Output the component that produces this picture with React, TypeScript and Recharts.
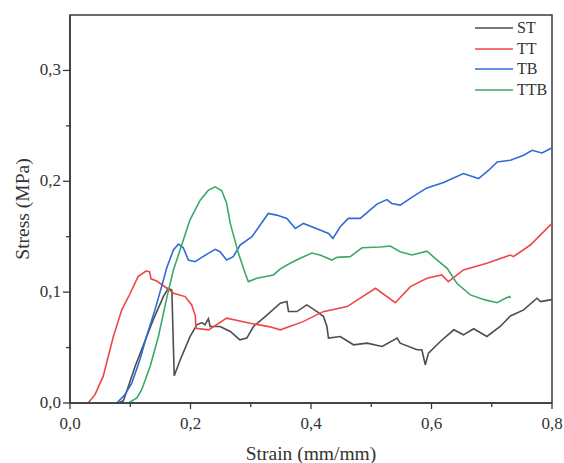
import { LineChart, Line, XAxis, YAxis, Legend, ReferenceArea } from "recharts";

/* ── palette ── */
const C = {
  st: "#4d4d4d",
  tt: "#ef4648",
  tb: "#2f6ad6",
  ttb: "#3ba96b",
  axis: "#3a3a3a",
  text: "#333333",
};
const FONT = '"Liberation Serif", "Times New Roman", serif';

/* ── data: [strain, stress] ── */
const ST = [
  [0, 0], [0.08, 0], [0.0885, 0.002], [0.094, 0.0104], [0.108, 0.033], [0.122, 0.0525],
  [0.138, 0.075], [0.155, 0.096], [0.163, 0.1035], [0.169, 0.102], [0.173, 0.0246],
  [0.183, 0.039], [0.199, 0.0597], [0.2105, 0.0705], [0.219, 0.0725], [0.224, 0.0705],
  [0.2297, 0.076], [0.2326, 0.069], [0.249, 0.069], [0.266, 0.0645], [0.282, 0.057],
  [0.2935, 0.0585], [0.3045, 0.069], [0.324, 0.078], [0.349, 0.09], [0.36, 0.0915],
  [0.3626, 0.0825], [0.3766, 0.0825], [0.393, 0.0885], [0.41, 0.0825], [0.4208, 0.078],
  [0.4264, 0.069], [0.429, 0.0585], [0.4485, 0.06], [0.4706, 0.0525], [0.493, 0.054],
  [0.518, 0.051], [0.543, 0.0585], [0.548, 0.054], [0.576, 0.048], [0.584, 0.048],
  [0.5897, 0.0345], [0.595, 0.045], [0.6146, 0.0555], [0.637, 0.066], [0.653, 0.0615],
  [0.67, 0.067], [0.692, 0.06], [0.714, 0.069], [0.731, 0.0785], [0.753, 0.084],
  [0.775, 0.0945], [0.781, 0.0915], [0.797, 0.093], [0.8, 0.0935],
];

const TT = [
  [0, 0], [0.03, 0], [0.0415, 0.0075], [0.055, 0.024], [0.072, 0.06], [0.086, 0.084],
  [0.1, 0.099], [0.113, 0.114], [0.126, 0.119], [0.132, 0.1185], [0.1345, 0.112],
  [0.144, 0.11], [0.161, 0.1035], [0.172, 0.099], [0.191, 0.096], [0.202, 0.0885],
  [0.208, 0.0786], [0.209, 0.0675], [0.23, 0.066], [0.26, 0.0765], [0.299, 0.072],
  [0.332, 0.0687], [0.349, 0.066], [0.387, 0.0734], [0.42, 0.0824], [0.46, 0.087],
  [0.507, 0.1035], [0.54, 0.0905], [0.565, 0.105], [0.5925, 0.1125], [0.617, 0.1155],
  [0.628, 0.1095], [0.653, 0.12], [0.692, 0.126], [0.731, 0.1335], [0.736, 0.132],
  [0.764, 0.1425], [0.797, 0.1605], [0.8, 0.162],
];

const TB = [
  [0, 0], [0.0776, 0], [0.091, 0.0075], [0.1025, 0.018], [0.116, 0.039], [0.127, 0.06],
  [0.141, 0.084], [0.152, 0.105], [0.1606, 0.122], [0.1716, 0.138], [0.18, 0.1434],
  [0.188, 0.14], [0.1965, 0.129], [0.2076, 0.1275], [0.216, 0.1305], [0.2297, 0.135],
  [0.241, 0.1386], [0.249, 0.1365], [0.26, 0.129], [0.271, 0.132], [0.2824, 0.1425],
  [0.302, 0.15], [0.329, 0.171], [0.343, 0.1695], [0.36, 0.1665], [0.374, 0.1575],
  [0.3875, 0.162], [0.415, 0.156], [0.429, 0.153], [0.4364, 0.1485], [0.4485, 0.159],
  [0.462, 0.1665], [0.4817, 0.1665], [0.5095, 0.1794], [0.526, 0.1835], [0.534, 0.18],
  [0.548, 0.1785], [0.573, 0.1875], [0.5925, 0.194], [0.62, 0.199], [0.653, 0.207],
  [0.678, 0.2025], [0.695, 0.21], [0.709, 0.2175], [0.731, 0.219], [0.753, 0.2235],
  [0.767, 0.228], [0.7835, 0.2255], [0.797, 0.2293], [0.8, 0.23],
];

const TTB = [
  [0, 0], [0.097, 0], [0.111, 0.0045], [0.119, 0.012], [0.133, 0.033], [0.1467, 0.06],
  [0.1606, 0.0948], [0.1716, 0.12], [0.1827, 0.138], [0.199, 0.165], [0.216, 0.183],
  [0.2297, 0.192], [0.241, 0.195], [0.252, 0.1915], [0.26, 0.18], [0.266, 0.162],
  [0.2796, 0.135], [0.2907, 0.117], [0.296, 0.1095], [0.31, 0.1125], [0.3377, 0.1155],
  [0.349, 0.121], [0.3654, 0.126], [0.382, 0.1305], [0.4015, 0.1353], [0.415, 0.1335],
  [0.4347, 0.129], [0.443, 0.1314], [0.465, 0.132], [0.4847, 0.14], [0.515, 0.1407],
  [0.5316, 0.1416], [0.548, 0.1365], [0.5676, 0.1335], [0.5925, 0.137], [0.606, 0.1305],
  [0.626, 0.1215], [0.642, 0.108], [0.6645, 0.0975], [0.689, 0.093], [0.709, 0.0905],
  [0.7226, 0.0945], [0.7297, 0.096], [0.731, 0.0945],
];

const SERIES = [
  { name: "ST", color: C.st, pts: ST },
  { name: "TT", color: C.tt, pts: TT },
  { name: "TB", color: C.tb, pts: TB },
  { name: "TTB", color: C.ttb, pts: TTB },
];

const X_TICKS = [0, 0.1, 0.2, 0.3, 0.4, 0.5, 0.6, 0.7, 0.8];
const Y_TICKS = [0, 0.05, 0.1, 0.15, 0.2, 0.25, 0.3];

/* ── utils ── */
const fmt = (v: number) => v.toFixed(1).replace(".", ",");
const rows = (p: number[][]) => p.map(([x, y]) => ({ x, y }));

/* ── ticks with minor marks ── */
const XTick = ({ x, y, payload }: any) => {
  const major = Math.round(payload.value * 10) % 2 === 0;
  return (
    <g>
      <line x1={x} x2={x} y1={y} y2={y + (major ? 6 : 4)} stroke={C.axis} strokeWidth={1.3} />
      {major && (
        <text x={x} y={y + 26} textAnchor="middle" fontSize={17} fill={C.text} fontFamily={FONT}>
          {fmt(payload.value)}
        </text>
      )}
    </g>
  );
};

const YTick = ({ x, y, payload }: any) => {
  const major = Math.round(payload.value * 100) % 10 === 0;
  return (
    <g>
      <line x1={x} x2={x - (major ? 7 : 4)} y1={y} y2={y} stroke={C.axis} strokeWidth={1.3} />
      {major && (
        <text x={x - 9} y={y + 5} textAnchor="end" fontSize={17} fill={C.text} fontFamily={FONT}>
          {fmt(payload.value)}
        </text>
      )}
    </g>
  );
};

const LegendBox = () => (
  <div style={{ fontFamily: FONT, fontSize: 16, color: C.text }}>
    {SERIES.map((s) => (
      <div key={s.name} style={{ display: "flex", alignItems: "center", height: 20.5 }}>
        <svg width={38} height={4} style={{ marginRight: 4, display: "block" }}>
          <line x1={0} x2={38} y1={2} y2={2} stroke={s.color} strokeWidth={1.6} />
        </svg>
        <span>{s.name}</span>
      </div>
    ))}
  </div>
);

/* ── APP ── */
export default function App() {
  return (
    <div style={{ position: "absolute", top: 0, left: 0, width: 564, height: 463 }}>
      <LineChart
        width={564}
        height={463}
        margin={{ top: 15, right: 12, left: 0, bottom: 0 }}
        style={{ fontFamily: FONT }}
      >
        <XAxis
          dataKey="x"
          type="number"
          domain={[0, 0.8]}
          ticks={X_TICKS}
          interval={0}
          allowDataOverflow
          height={60}
          tickSize={0}
          tickMargin={0}
          tickLine={false}
          tick={<XTick />}
          axisLine={{ stroke: C.axis, strokeWidth: 1.5 }}
          label={{
            value: "Strain (mm/mm)",
            position: "insideBottom",
            offset: 3,
            fontSize: 19.5,
            fill: C.text,
            fontFamily: FONT,
          }}
        />
        <YAxis
          dataKey="y"
          type="number"
          domain={[0, 0.35]}
          ticks={Y_TICKS}
          interval={0}
          allowDataOverflow
          width={70}
          tickSize={0}
          tickMargin={0}
          tickLine={false}
          tick={<YTick />}
          axisLine={{ stroke: C.axis, strokeWidth: 1.5 }}
          label={{
            value: "Stress (MPa)",
            angle: -90,
            position: "insideLeft",
            offset: 22,
            fontSize: 19.5,
            fill: C.text,
            fontFamily: FONT,
            style: { textAnchor: "middle" },
          }}
        />
        <ReferenceArea
          x1={0}
          x2={0.8}
          y1={0}
          y2={0.35}
          fill="none"
          stroke={C.axis}
          strokeWidth={1.5}
          ifOverflow="visible"
        />
        {SERIES.map((s) => (
          <Line
            key={s.name}
            data={rows(s.pts)}
            dataKey="y"
            name={s.name}
            type="linear"
            stroke={s.color}
            strokeWidth={1.6}
            dot={false}
            activeDot={false}
            isAnimationActive={false}
          />
        ))}
        <Legend
          layout="horizontal"
          verticalAlign="middle"
          align="center"
          content={<LegendBox />}
          wrapperStyle={{ top: 18, left: 475, width: 80, right: "auto", bottom: "auto" }}
        />
      </LineChart>
    </div>
  );
}
